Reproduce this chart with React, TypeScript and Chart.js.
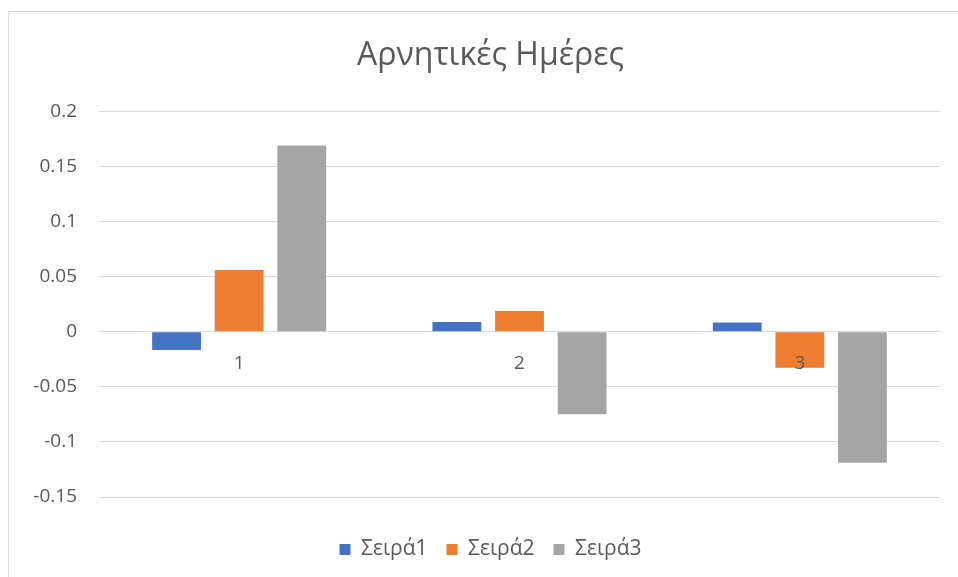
import React, { useEffect, useRef } from "react";
import { Chart, registerables } from "chart.js";

Chart.register(...registerables);

const categories = ["1", "2", "3"];
const seriesNames = ["Σειρά1", "Σειρά2", "Σειρά3"];
const series1 = [-0.0166, 0.0088, 0.0085];
const series2 = [0.056, 0.0188, -0.0327];
const series3 = [0.169, -0.075, -0.119];
const seriesColors = ["#4472C4", "#ED7D31", "#A5A5A5"];
const yMin = -0.15;
const yMax = 0.2;
const yStep = 0.05;
const titleText = "Αρνητικές Ημέρες";

const FONT = "'Open Sans', 'Noto Sans', sans-serif";
const TEXT = "#595959";
const GRID = "#D9D9D9";

const framePlugin = {
  id: "frame",
  beforeDraw(chart: any) {
    const { ctx, width, height } = chart;
    ctx.save();
    ctx.fillStyle = "#ffffff";
    ctx.fillRect(0, 0, width, height);
    ctx.strokeStyle = GRID;
    ctx.lineWidth = 1;
    ctx.beginPath();
    ctx.moveTo(8.5, height);
    ctx.lineTo(8.5, 11.5);
    ctx.lineTo(width, 11.5);
    ctx.stroke();
    ctx.restore();
  },
  afterLayout(chart: any) {
    // the chart frame extends past the right edge of the view; centre title and legend on it
    const extra = 41;
    for (const box of [chart.titleBlock, chart.legend]) {
      if (box) {
        box.right += extra;
        box.width += extra;
      }
    }
  },
};

export default function App() {
  const ref = useRef<HTMLCanvasElement>(null);
  useEffect(() => {
    if (!ref.current) return;
    const values = [series1, series2, series3];
    const chart = new Chart(ref.current, {
      type: "bar",
      data: {
        labels: categories,
        datasets: seriesNames.map((name, i) => ({
          label: name,
          data: values[i],
          backgroundColor: seriesColors[i],
          borderWidth: 0,
          categoryPercentage: 0.67,
          barPercentage: 0.78,
        })),
      },
      options: {
        responsive: false,
        animation: false,
        devicePixelRatio: 1,
        layout: { padding: { left: 0, right: 18, top: 0, bottom: 7 } },
        plugins: {
          title: {
            display: true,
            text: titleText,
            color: TEXT,
            font: { family: FONT, size: 32, weight: "normal", lineHeight: 1.2 },
            padding: { top: 37, bottom: 36 },
          },
          legend: {
            position: "bottom",
            title: {
              display: true,
              text: "",
              font: { size: 2, lineHeight: 1 },
              padding: { top: 21, bottom: 0 },
            },
            labels: {
              color: TEXT,
              font: { family: FONT, size: 21 },
              boxWidth: 11,
              boxHeight: 11,
              padding: 19,
            },
          },
          tooltip: { enabled: false },
        },
        scales: {
          x: {
            position: { y: 0 } as any,
            grid: { display: false },
            border: { display: false },
            ticks: {
              z: 1,
              color: TEXT,
              font: { family: FONT, size: 19 },
              padding: 12,
            },
            afterFit(scale: any) {
              scale.height = 0;
            },
          },
          y: {
            min: yMin,
            max: yMax,
            grid: { color: GRID, lineWidth: 1, drawTicks: false },
            border: { display: false },
            ticks: {
              stepSize: yStep,
              color: TEXT,
              font: { family: FONT, size: 19 },
              padding: 22,
              callback: (v: any) => String(Number(Number(v).toFixed(2))),
            },
            afterFit(scale: any) {
              scale.width = 99;
            },
          },
        },
      },
      plugins: [framePlugin],
    });
    return () => chart.destroy();
  }, []);
  return (
    <div style={{ position: "fixed", left: 0, top: 0, width: 958, height: 577 }}>
      <canvas ref={ref} width={958} height={577} style={{ display: "block" }} />
    </div>
  );
}
